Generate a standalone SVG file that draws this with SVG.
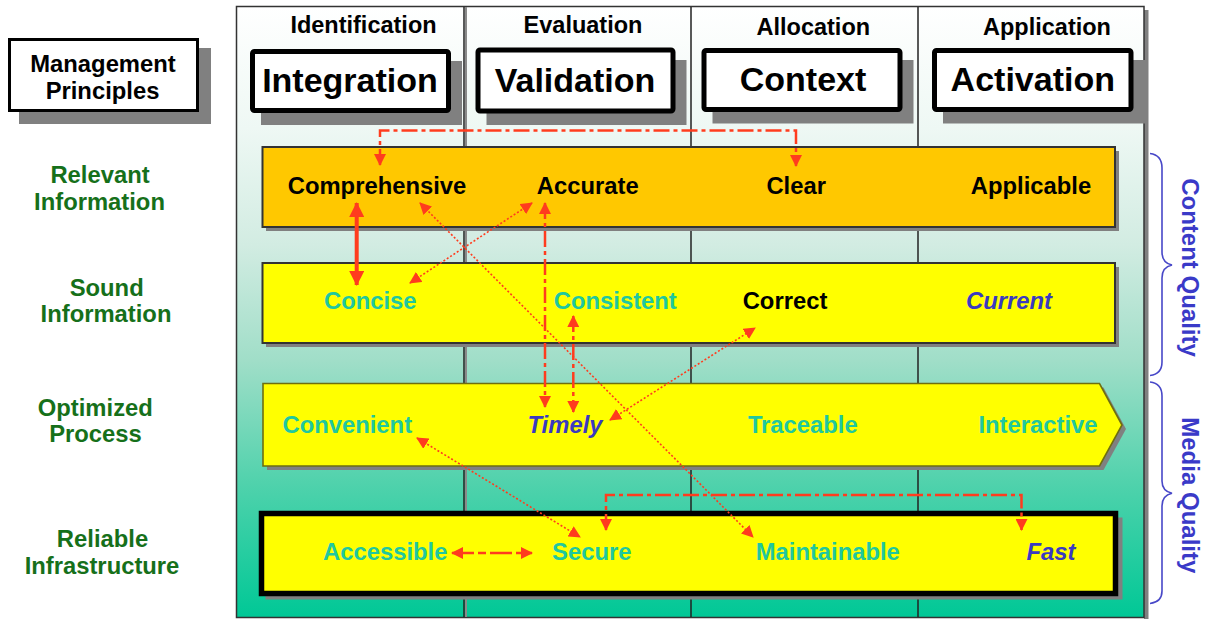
<svg xmlns="http://www.w3.org/2000/svg" width="1213" height="619" viewBox="0 0 1213 619">
  <defs>
    <linearGradient id="panelFill" x1="0" y1="0" x2="0" y2="1">
      <stop offset="0" stop-color="#FFFFFF"/>
      <stop offset="0.2" stop-color="#EEF8F4"/>
      <stop offset="0.39" stop-color="#D2ECE2"/>
      <stop offset="0.58" stop-color="#A0DEC8"/>
      <stop offset="0.78" stop-color="#50D2AC"/>
      <stop offset="1" stop-color="#00C896"/>
    </linearGradient>
    <marker id="ah" viewBox="0 0 12 12" refX="11" refY="6" markerWidth="12" markerHeight="12" markerUnits="userSpaceOnUse" orient="auto-start-reverse">
      <path d="M0,0 L12,6 L0,12 z" fill="#FF3C1E"/>
    </marker>
    <marker id="ahL" viewBox="0 0 15 15" refX="14" refY="7.5" markerWidth="15" markerHeight="15" markerUnits="userSpaceOnUse" orient="auto-start-reverse">
      <path d="M0,0 L15,7.5 L0,15 z" fill="#FF3C1E"/>
    </marker>
    <style>
      text { font-family: "Liberation Sans", Arial, sans-serif; font-weight: bold; text-anchor: middle; }
      .lbl { font-size: 23.8px; fill: #16701A; }
      .phase { font-size: 23.5px; fill: #000; }
      .big { font-size: 34px; fill: #000; }
      .blk { font-size: 23.8px; fill: #000; }
      .teal { font-size: 23.8px; fill: #20C79F; }
      .blue { font-size: 23.8px; fill: #3A3AC0; font-style: italic; }
      .side { font-size: 24px; fill: #3A3AC8; }
      .shadow { fill: #808080; }
      .hbox { fill: #FFFFFF; stroke: #000; stroke-width: 5; }
      .bar { stroke: #333; stroke-width: 2; }
      .brace { fill: none; stroke: #4848C8; stroke-width: 1.6; }
      .c { fill: none; stroke: #FF3C1E; }
      .dashdot { stroke-width: 2.5; stroke-dasharray: 16 4 4 4; }
      .dot { stroke-width: 1.6; stroke-dasharray: 2 2; }
      .div { stroke: #222; stroke-width: 1.5; }
    </style>
  </defs>

  <!-- background panel with column grid -->
  <g id="panel">
    <rect x="1144" y="10" width="4.5" height="609" fill="#808080"/>
    <rect x="236.5" y="6.5" width="907.5" height="611" fill="url(#panelFill)" stroke="#333" stroke-width="1.5"/>
    <line x1="466" y1="7" x2="466" y2="617" stroke="#8a8a8a" stroke-width="2"/>
    <line class="div" x1="464" y1="7" x2="464" y2="617"/>
    <line class="div" x1="691" y1="7" x2="691" y2="617"/>
    <line class="div" x1="918" y1="7" x2="918" y2="617"/>
  </g>

  <!-- phase headings -->
  <g id="phases">
    <text class="phase" x="363.5" y="33.3">Identification</text>
    <text class="phase" x="583" y="33.3">Evaluation</text>
    <text class="phase" x="813.3" y="35">Allocation</text>
    <text class="phase" x="1047" y="35">Application</text>
  </g>

  <!-- management principle boxes -->
  <g id="principles-box">
    <rect class="shadow" x="19" y="48" width="192" height="76"/>
    <rect x="9.5" y="39.5" width="188" height="71" fill="#FFFFFF" stroke="#000" stroke-width="3"/>
    <text class="blk" x="103" y="71.5">Management</text>
    <text class="blk" x="102.5" y="98.5">Principles</text>
  </g>
  <g id="integration">
    <rect class="shadow" x="261" y="61" width="201" height="64"/>
    <rect class="hbox" x="252.5" y="51.5" width="196" height="59" rx="2"/>
    <text class="big" x="350" y="91.7">Integration</text>
  </g>
  <g id="validation">
    <rect class="shadow" x="486.5" y="60" width="200" height="65"/>
    <rect class="hbox" x="478" y="50" width="195" height="61" rx="2"/>
    <text class="big" x="575" y="91.7">Validation</text>
  </g>
  <g id="context">
    <rect class="shadow" x="712.5" y="60" width="201" height="63.5"/>
    <rect class="hbox" x="704" y="50.5" width="196" height="59" rx="2"/>
    <text class="big" x="803" y="90.7">Context</text>
  </g>
  <g id="activation">
    <rect class="shadow" x="943" y="60" width="202.5" height="63.5"/>
    <rect class="hbox" x="934.5" y="50.5" width="196.5" height="59" rx="2"/>
    <text class="big" x="1032.8" y="91">Activation</text>
  </g>

  <!-- row labels -->
  <g id="row-labels">
    <text class="lbl" x="100" y="183.3">Relevant</text>
    <text class="lbl" x="99.5" y="210">Information</text>
    <text class="lbl" x="106.7" y="295.7">Sound</text>
    <text class="lbl" x="106" y="322.3">Information</text>
    <text class="lbl" x="95.3" y="415.7">Optimized</text>
    <text class="lbl" x="95.5" y="441.7">Process</text>
    <text class="lbl" x="102.5" y="546.7">Reliable</text>
    <text class="lbl" x="102" y="574">Infrastructure</text>
  </g>

  <!-- row bars -->
  <g id="relevant-row">
    <rect class="shadow" x="266" y="151" width="853" height="80"/>
    <rect class="bar" x="262.5" y="147" width="852.5" height="80" fill="#FFC800"/>
    <text class="blk" x="377" y="194">Comprehensive</text>
    <text class="blk" x="587.8" y="194">Accurate</text>
    <text class="blk" x="796.2" y="194">Clear</text>
    <text class="blk" x="1031" y="194">Applicable</text>
  </g>
  <g id="sound-row">
    <rect class="shadow" x="266" y="267" width="853" height="80"/>
    <rect class="bar" x="262.5" y="263" width="852.5" height="80" fill="#FFFF00"/>
    <text class="teal" x="370.3" y="309.3">Concise</text>
    <text class="teal" x="615.3" y="309.3">Consistent</text>
    <text class="blk" x="785" y="309.3">Correct</text>
    <text class="blue" x="1009" y="309.3">Current</text>
  </g>
  <g id="process-row">
    <polygon class="shadow" points="267,387.5 1103.5,387.5 1126,429 1103.5,470 267,470"/>
    <polygon points="263,383.5 1099.5,383.5 1122,425 1099.5,466 263,466" fill="#FFFF00" stroke="#6E6E10" stroke-width="1.6"/>
    <text class="teal" x="347.3" y="432.7">Convenient</text>
    <text class="blue" x="565" y="432.7">Timely</text>
    <text class="teal" x="802.8" y="432.7">Traceable</text>
    <text class="teal" x="1038" y="432.7">Interactive</text>
  </g>
  <g id="infrastructure-row">
    <rect class="shadow" x="265.5" y="517.5" width="857" height="82"/>
    <rect x="261.5" y="513.5" width="854" height="80" fill="#FFFF00" stroke="#000" stroke-width="5.5"/>
    <text class="teal" x="385.3" y="560">Accessible</text>
    <text class="teal" x="591.8" y="560">Secure</text>
    <text class="teal" x="827.8" y="560">Maintainable</text>
    <text class="blue" x="1051" y="560">Fast</text>
  </g>

  <!-- quality braces -->
  <g id="content-quality">
    <path class="brace" d="M1150,153.5 Q1162,155 1162,168 L1162,252 Q1162,263 1172,265 Q1162,267 1162,278 L1162,362 Q1162,374 1150,375.5"/>
    <text class="side" transform="translate(1182,267.5) rotate(90)">Content Quality</text>
  </g>
  <g id="media-quality">
    <path class="brace" d="M1150,382 Q1162,383.5 1162,396 L1162,481 Q1162,491 1172,493.3 Q1162,495.5 1162,506 L1162,591 Q1162,602 1150,603.5"/>
    <text class="side" transform="translate(1182,495.3) rotate(90)">Media Quality</text>
  </g>

  <!-- connectors -->
  <g id="connectors">
    <path class="c dashdot" d="M380,165 L380,130.5 L796,130.5 L796,166" marker-start="url(#ah)" marker-end="url(#ah)"/>
    <line class="c" x1="356.7" y1="203" x2="356.7" y2="285" stroke-width="4" marker-start="url(#ahL)" marker-end="url(#ahL)"/>
    <line class="c dot" x1="410" y1="283" x2="532" y2="203" marker-start="url(#ah)" marker-end="url(#ah)"/>
    <line class="c dot" x1="420" y1="203" x2="753" y2="537" marker-start="url(#ah)" marker-end="url(#ah)"/>
    <line class="c dashdot" x1="545" y1="203" x2="545" y2="407" marker-start="url(#ah)" marker-end="url(#ah)"/>
    <line class="c dashdot" x1="573.3" y1="316" x2="573.3" y2="412" stroke-width="3" marker-start="url(#ah)" marker-end="url(#ah)"/>
    <line class="c dot" x1="610" y1="420" x2="755" y2="328" marker-start="url(#ah)" marker-end="url(#ah)"/>
    <line class="c dot" x1="417" y1="438" x2="580" y2="537" marker-start="url(#ah)" marker-end="url(#ah)"/>
    <line class="c" x1="452" y1="553" x2="532" y2="553" stroke-width="2.5" stroke-dasharray="22 4 8 4" marker-start="url(#ah)" marker-end="url(#ah)"/>
    <path class="c dashdot" d="M606,530 L606,495 L1021.5,495 L1021.5,530" marker-start="url(#ah)" marker-end="url(#ah)"/>
  </g>
</svg>
